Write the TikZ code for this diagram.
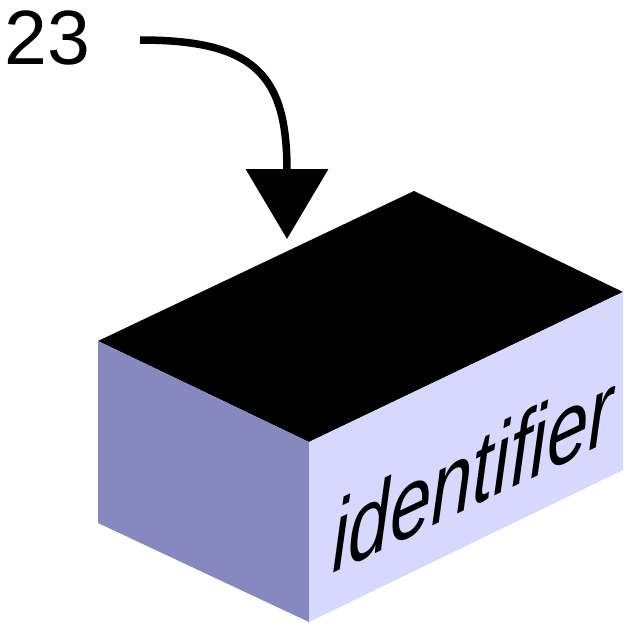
\documentclass[tikz,border=0pt]{standalone}
\usepackage{fontspec}
\setmainfont{Liberation Sans}
\usetikzlibrary{arrows.meta,positioning}
\definecolor{sideleft}{HTML}{8888C0}
\definecolor{sideright}{HTML}{D8D8FF}

\begin{document}
\begin{tikzpicture}[x=1pt,y=-1pt,
  lbl/.style={inner sep=0pt, anchor=base west},
  pointer/.style={line width=7.5pt, -{Triangle[length=70pt,width=81pt]}}]

\useasboundingbox (0,0) rectangle (640,634);

% corners of the box
\coordinate (tb) at (414,191);
\coordinate (tl) at (98,341);
\coordinate (tf) at (309,442);
\coordinate (tr) at (623,292);
\coordinate (bl) at (98,523);
\coordinate (bf) at (309,622);
\coordinate (br) at (623,470);

\fill [black] (tl) -- (tb) -- (tr) -- (tf) -- cycle;
\fill [sideleft] (tl) -- (tf) -- (bf) -- (bl) -- cycle;
\fill [sideright] (tf) -- (tr) -- (br) -- (bf) -- cycle;

\node (ident) [lbl, cm={0.76,0.363,0,1,(0,0)}, font=\fontsize{98}{98}\selectfont\itshape]
  at (332,574) {identifier};

\node (num) [lbl, font=\fontsize{77}{77}\selectfont] at (4,65) {23};

\coordinate (start) at (140,40);
\coordinate (target) at (287,239);
\draw [pointer] (start) .. controls (255,40) and (287,75) .. (target);

\end{tikzpicture}
\end{document}
